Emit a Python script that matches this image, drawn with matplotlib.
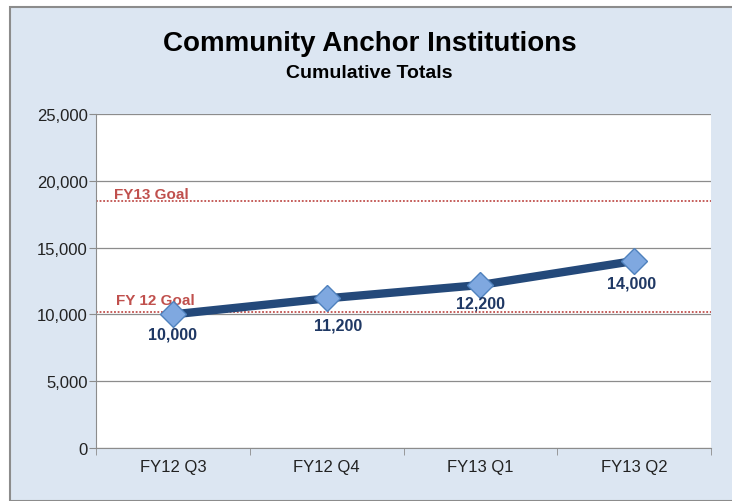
import matplotlib
matplotlib.use("Agg")
from matplotlib import pyplot as plt
from matplotlib.patches import Rectangle

# data
quarters = ["FY12 Q3", "FY12 Q4", "FY13 Q1", "FY13 Q2"]
totals = [10000, 11200, 12200, 14000]
goal_fy12 = 10150
goal_fy13 = 18500
y_ticks = [0, 5000, 10000, 15000, 20000, 25000]

plt.rcParams["font.family"] = ["Liberation Sans", "DejaVu Sans"]

bg = "#dce6f2"
navy = "#1f3864"
line_col = "#24497a"
goal_red = "#c0504d"

fig = plt.figure(figsize=(7.32, 5.02), dpi=100)
fig.patch.set_facecolor("white")
# light blue chart area with grey frame
fig.patches.append(
    Rectangle((10 / 732, 0), 1, 1 - 8 / 502, transform=fig.transFigure,
              facecolor=bg, edgecolor="#8c8c8c", linewidth=1.5, zorder=-1)
)

ax = fig.add_axes([96 / 732, 1 - 449 / 502, 615 / 732, 334 / 502])
ax.set_facecolor("white")

x = list(range(len(quarters)))
ax.set_xlim(-0.5, len(quarters) - 0.5)
ax.set_ylim(0, 25000)
ax.set_yticks(y_ticks)
ax.set_yticklabels([f"{v:,}" for v in y_ticks], fontsize=12, color="#222222")
ax.set_xticks(x)
ax.set_xticklabels(quarters, fontsize=12, color="#222222")
ax.set_xticks([-0.5, 0.5, 1.5, 2.5, 3.5], minor=True)
ax.tick_params(axis="x", which="major", length=0, pad=8)
ax.tick_params(axis="x", which="minor", length=5, color="#8c8c8c")
ax.tick_params(axis="y", length=5, color="#8c8c8c", pad=1)
ax.grid(axis="y", color="#8c8c8c", linewidth=0.9)
ax.set_axisbelow(True)
for side in ["top", "right"]:
    ax.spines[side].set_visible(False)
for side in ["left", "bottom"]:
    ax.spines[side].set_color("#8c8c8c")

# goal lines
for goal, label, dx, dy in [(goal_fy13, "FY13 Goal", 0.12, 5), (goal_fy12, "FY 12 Goal", 0.13, 9)]:
    ax.axhline(goal, color=goal_red, linestyle=(0, (1, 1)), linewidth=1.3, zorder=2)
    ax.annotate(label, (-0.5 + dx, goal), xytext=(0, dy), textcoords="offset points",
                color=goal_red, fontsize=11, fontweight="bold",
                va="center", ha="left", zorder=2)

ax.plot(x, totals, color=line_col, linewidth=6, solid_capstyle="butt", zorder=3)
ax.plot(x, totals, linestyle="none", marker="D", markersize=13,
        markerfacecolor="#7fa8e0", markeredgecolor="#4f81bd",
        markeredgewidth=1, zorder=4)

offsets = [(0, -14), (8, -19), (0, -13), (-2, -16)]
for xi, v, (ox, oy) in zip(x, totals, offsets):
    ax.annotate(f"{v:,}", (xi, v), xytext=(ox, oy), textcoords="offset points",
                ha="center", va="center", fontsize=11.5, fontweight="bold",
                color=navy, zorder=5)

fig.text(0.505, 1 - 44 / 502, "Community Anchor Institutions", ha="center",
         va="center", fontsize=20, fontweight="bold", color="black")
fig.text(0.505, 1 - 74 / 502, "Cumulative Totals", ha="center", va="center",
         fontsize=14, fontweight="bold", color="black")

fig.savefig("out.png", dpi=100, facecolor=fig.get_facecolor())
